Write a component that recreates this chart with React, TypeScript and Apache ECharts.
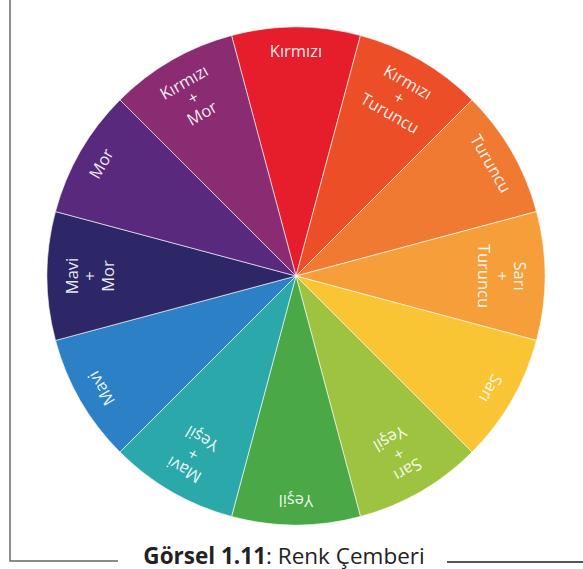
import React, { useEffect, useRef } from "react";
import * as echarts from "echarts";

// Slices clockwise from the top
const sliceNames = [
  "Kırmızı",
  "Kırmızı\n+\nTuruncu",
  "Turuncu",
  "Sarı\n+\nTuruncu",
  "Sarı",
  "Sarı\n+\nYeşil",
  "Yeşil",
  "Mavi\n+\nYeşil",
  "Mavi",
  "Mavi\n+\nMor",
  "Mor",
  "Kırmızı\n+\nMor",
];
const sliceValues = [1, 1, 1, 1, 1, 1, 1, 1, 1, 1, 1, 1];
const sliceColors = [
  "#E61E2B",
  "#EC4F27",
  "#F07A32",
  "#F59E3A",
  "#FAC534",
  "#9DC340",
  "#4AA846",
  "#2AA8AA",
  "#2B80C6",
  "#2D2767",
  "#58297C",
  "#8B2B72",
];
const captionBold = "Görsel 1.11";
const captionRest = ": Renk Çemberi";

export default function App() {
  const ref = useRef<HTMLDivElement>(null);
  useEffect(() => {
    document.body.style.margin = "0";
    if (!ref.current) return;
    const chart = echarts.init(ref.current, undefined, { renderer: "svg" });
    const center = [296, 276];
    const R = 249;
    const labelStyle = {
      color: "rgba(255,255,255,0.92)",
      fontFamily: "Open Sans",
      fontSize: 16.5,
      lineHeight: 18,
      align: "center",
    };
    const mkLabels = (multi: boolean) =>
      sliceNames.map((n, i) => ({
        name: n,
        value: sliceValues[i],
        label: {
          show: n.includes("\n") === multi,
          rotate: -30 * i,
        },
      }));
    chart.setOption({
      animation: false,
      series: [
        {
          type: "pie",
          center,
          radius: [0, R],
          startAngle: 105,
          clockwise: true,
          silent: true,
          label: { show: false },
          labelLine: { show: false },
          itemStyle: { borderColor: "rgba(255,255,255,0.6)", borderWidth: 1 },
          data: sliceNames.map((n, i) => ({
            name: n,
            value: sliceValues[i],
            itemStyle: { color: sliceColors[i] },
          })),
        },
        {
          type: "pie",
          center,
          radius: [196, R],
          startAngle: 105,
          clockwise: true,
          silent: true,
          itemStyle: { color: "transparent" },
          label: { position: "inside", ...labelStyle },
          labelLine: { show: false },
          data: mkLabels(false),
        },
        {
          type: "pie",
          center,
          radius: [158, R],
          startAngle: 105,
          clockwise: true,
          silent: true,
          itemStyle: { color: "transparent" },
          label: { position: "inside", ...labelStyle },
          labelLine: { show: false },
          data: mkLabels(true),
        },
      ],
      graphic: [
        {
          type: "polyline",
          shape: { points: [[10, 0], [10, 561], [118, 561]] },
          style: { stroke: "#666", lineWidth: 1.5, fill: null },
        },
        {
          type: "line",
          shape: { x1: 447, y1: 562, x2: 583, y2: 562 },
          style: { stroke: "#555", lineWidth: 2 },
        },
        {
          type: "text",
          x: 284,
          y: 555,
          style: {
            text: `{b|${captionBold}}{n|${captionRest}}`,
            align: "center",
            verticalAlign: "middle",
            rich: {
              b: { fontFamily: "Open Sans", fontWeight: "bold", fontSize: 22.5, lineHeight: 22, fill: "#222" },
              n: { fontFamily: "Open Sans", fontSize: 22.5, lineHeight: 22, fill: "#222" },
            },
          },
        },
      ],
    });
    return () => chart.dispose();
  }, []);
  return <div ref={ref} style={{ width: 583, height: 569 }} />;
}
